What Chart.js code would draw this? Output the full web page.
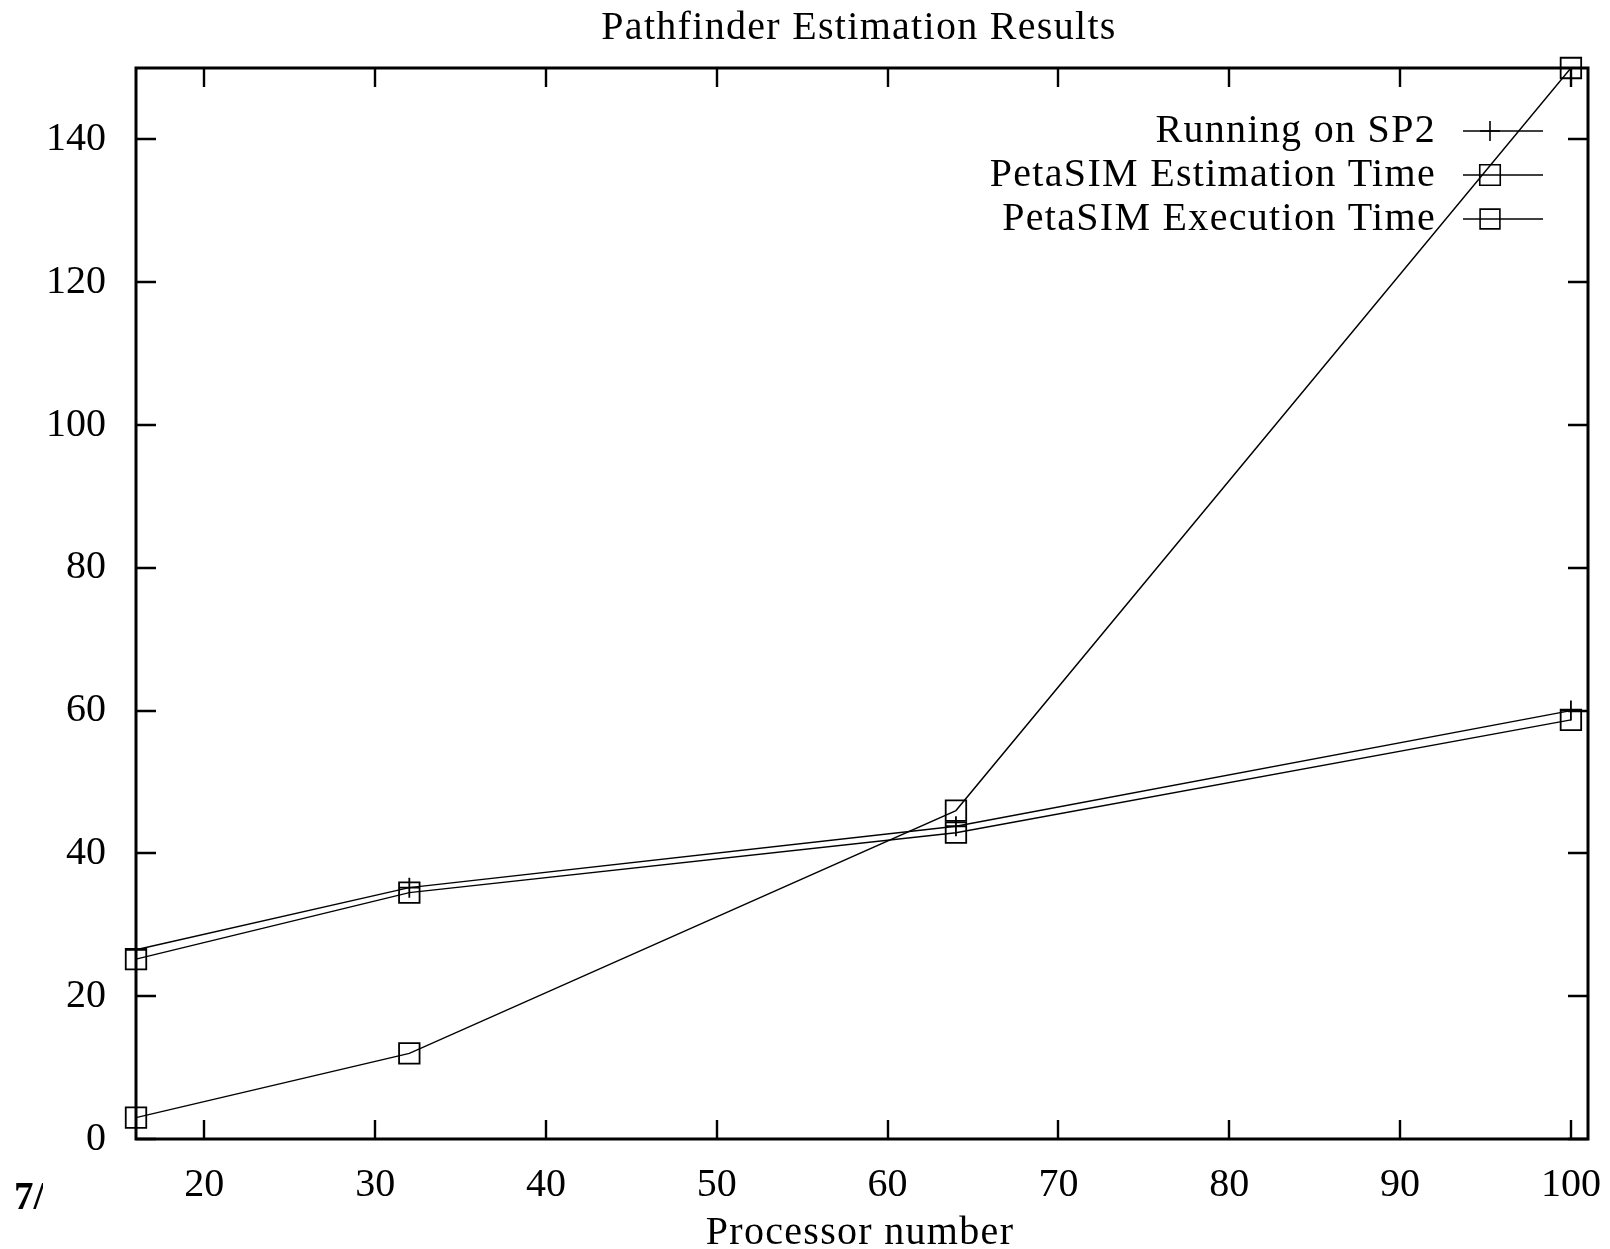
<!DOCTYPE html>
<html><head><meta charset="utf-8">
<script src="https://cdn.jsdelivr.net/npm/chart.js@4"></script>
<style>html,body{margin:0;padding:0;background:#fff}#wrap{width:1610px;height:1249px}</style>
</head><body><div id="wrap"><canvas id="c" width="1610" height="1249"></canvas></div>
<script>
const processors = [16, 32, 64, 100];
const runningSP2 = [26.5, 35.2, 43.8, 60.0];
const petaEstimation = [25.2, 34.5, 42.9, 58.7];
const petaExecution = [3.0, 12.0, 46.0, 150.0];
const xTickValues = [20, 30, 40, 50, 60, 70, 80, 90, 100];
const yTickValues = [0, 20, 40, 60, 80, 100, 120, 140];
const seriesLabels = ['Running on SP2', 'PetaSIM Estimation Time', 'PetaSIM Execution Time'];
const chartTitle = 'Pathfinder Estimation Results';
const xTitle = 'Processor number';
const pageFragment = '7/';

const FONT = 'Liberation Serif, Times New Roman, serif';
const toXY = (vals) => processors.map((p, i) => ({x: p, y: vals[i]}));

const markerStyles = [
  {pointStyle: 'cross', radius: 10, legendRadius: 10},
  {pointStyle: 'rect', radius: 14.5, legendRadius: 14.5},
  {pointStyle: 'rect', radius: 14.5, legendRadius: 14}
];

function ds(label, vals, m) {
  return {
    label, data: toXY(vals),
    borderColor: '#000', borderWidth: 1.4, tension: 0,
    pointStyle: m.pointStyle, pointRadius: m.radius,
    pointBorderColor: '#000', pointBorderWidth: 1.8,
    pointBackgroundColor: 'rgba(0,0,0,0)',
    clip: false
  };
}

const framePlugin = {
  id: 'frame',
  beforeDatasetsDraw(chart) {
    const {ctx, chartArea: a, scales: {x, y}} = chart;
    ctx.save();
    ctx.strokeStyle = '#000';
    ctx.lineWidth = 2.4;
    ctx.beginPath();
    xTickValues.forEach(v => {
      const px = Math.round(x.getPixelForValue(v));
      ctx.moveTo(px, a.bottom); ctx.lineTo(px, a.bottom - 19);
      ctx.moveTo(px, a.top); ctx.lineTo(px, a.top + 19);
    });
    yTickValues.forEach(v => {
      const py = Math.round(y.getPixelForValue(v));
      ctx.moveTo(a.left, py); ctx.lineTo(a.left + 20, py);
      ctx.moveTo(a.right, py); ctx.lineTo(a.right - 20, py);
    });
    ctx.stroke();
    ctx.lineWidth = 3;
    ctx.strokeRect(a.left, a.top, a.right - a.left, a.bottom - a.top);
    ctx.restore();
  },
  afterDraw(chart) {
    const {ctx} = chart;
    ctx.save();
    ctx.fillStyle = '#000';
    ctx.letterSpacing = '1.3px';
    ctx.font = '40px ' + FONT;
    ctx.textBaseline = 'middle';
    ctx.textAlign = 'center';
    ctx.fillText(chartTitle, 859, 28);
    ctx.fillText(xTitle, 860, 1233);
    // legend
    const rows = [131, 175, 219];
    chart.data.datasets.forEach((d, i) => {
      const yy = rows[i];
      ctx.textAlign = 'right';
      ctx.fillText(d.label, 1436, yy);
      ctx.strokeStyle = '#000';
      ctx.lineWidth = 1.6;
      ctx.beginPath(); ctx.moveTo(1463, yy); ctx.lineTo(1543, yy); ctx.stroke();
      ctx.fillStyle = 'rgba(0,0,0,0)';
      Chart.helpers.drawPoint(ctx, {pointStyle: markerStyles[i].pointStyle, radius: markerStyles[i].legendRadius, borderWidth: 1.8, rotation: 0}, 1490, yy);
      ctx.fillStyle = '#000';
    });
    // cropped page fragment
    ctx.save();
    ctx.beginPath(); ctx.rect(0, 1150, 43, 90); ctx.clip();
    ctx.letterSpacing = '0px';
    ctx.font = 'bold 39px ' + FONT;
    ctx.textAlign = 'left';
    ctx.textBaseline = 'alphabetic';
    ctx.fillText(pageFragment, 14, 1209);
    ctx.restore();
    ctx.restore();
  }
};

new Chart(document.getElementById('c'), {
  type: 'line',
  data: {
    datasets: [
      ds(seriesLabels[0], runningSP2, markerStyles[0]),
      ds(seriesLabels[1], petaEstimation, markerStyles[1]),
      ds(seriesLabels[2], petaExecution, markerStyles[2])
    ]
  },
  options: {
    responsive: false, animation: false, devicePixelRatio: 1, events: [],
    layout: {padding: {left: 0, right: 22, top: 68, bottom: 0}},
    plugins: {legend: {display: false}, title: {display: false}, tooltip: {enabled: false}},
    scales: {
      x: {
        type: 'linear', min: 16, max: 101,
        afterBuildTicks: s => { s.ticks = xTickValues.map(v => ({value: v})); },
        afterFit: s => { s.height = 1249 - 1139; s.paddingLeft = 0; s.paddingRight = 0; },
        grid: {display: false}, border: {display: false},
        ticks: {padding: 14, color: '#000', font: {family: FONT, size: 40}}
      },
      y: {
        type: 'linear', min: 0, max: 150,
        afterBuildTicks: s => { s.ticks = yTickValues.map(v => ({value: v})); },
        afterFit: s => { s.width = 136; s.paddingTop = 0; s.paddingBottom = 0; },
        grid: {display: false}, border: {display: false},
        ticks: {padding: 22, color: '#000', font: {family: FONT, size: 40}}
      }
    }
  },
  plugins: [framePlugin]
});
</script></body></html>
